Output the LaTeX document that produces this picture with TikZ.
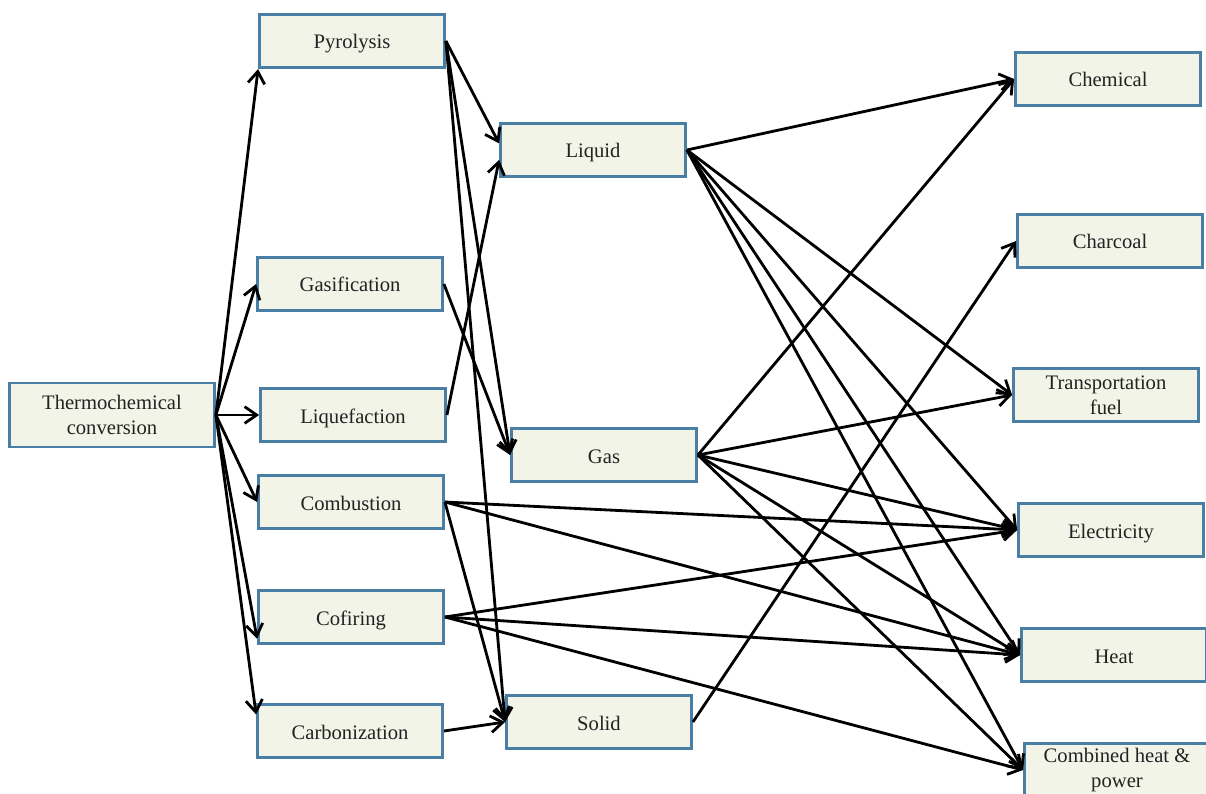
\documentclass[tikz,border=0pt]{standalone}
\usepackage{fontspec}
\setmainfont{Liberation Serif}
\usepackage{tikz}
\usetikzlibrary{arrows.meta,positioning}

\definecolor{boxfill}{HTML}{F3F4E8}
\definecolor{boxline}{HTML}{4A7FA5}
\definecolor{textgrey}{HTML}{222222}

\begin{document}
\begin{tikzpicture}[x=0.03cm,y=-0.03cm]
\tikzstyle{box}=[rectangle,draw=boxline,fill=boxfill,line width=2.4pt,minimum width=5.55cm,minimum height=1.6cm,align=center,text=textgrey,font=\fontsize{17.6}{21}\selectfont,inner sep=0pt,text height=0.6cm,text depth=0.12cm]
\tikzstyle{twoline}=[text height=,text depth=]
\tikzstyle{arr}=[line width=2.4pt,-{Straight Barb[length=3.6mm,width=5mm,line width=2.4pt]}]

\useasboundingbox (0,0) rectangle (1206,794);

% process
\node[box,twoline,minimum width=6.15cm,minimum height=1.92cm] (thermo) at (112,415) {Thermochemical\\conversion};

% routes
\node[box] (pyro) at (352,41) {Pyrolysis};
\node[box] (gasif) at (350,284) {Gasification};
\node[box] (liquef) at (353,415) {Liquefaction};
\node[box] (combus) at (351,502) {Combustion};
\node[box] (cofir) at (351,617) {Cofiring};
\node[box] (carbon) at (350,731) {Carbonization};

% products
\node[box] (liquid) at (593,150) {Liquid};
\node[box] (gas) at (604,455) {Gas};
\node[box] (solid) at (599,722) {Solid};

% uses
\node[box] (chem) at (1108,79) {Chemical};
\node[box] (charc) at (1110,241) {Charcoal};
\node[box,twoline] (trans) at (1106,395) {Transportation\\fuel};
\node[box] (elec) at (1111,530) {Electricity};
\node[box] (heat) at (1114,655) {Heat};
\node[box,twoline] (chp) at (1117,770) {Combined heat \&\\power};

% process -> routes
\draw[arr] (thermo.east) -- (pyro.south west);
\draw[arr] (thermo.east) -- (gasif.west);
\draw[arr] (thermo.east) -- (liquef.west);
\draw[arr] (thermo.east) -- (combus.west);
\draw[arr] (thermo.east) -- (cofir.193);
\draw[arr] (thermo.east) -- (carbon.170);

% routes -> products
\draw[arr] (pyro.east) -- (liquid.176);
\draw[arr] (pyro.east) -- (gas.west);
\draw[arr] (pyro.east) -- (solid.west);
\draw[arr] (gasif.east) -- (gas.west);
\draw[arr] (liquef.east) -- (liquid.186);
\draw[arr] (combus.east) -- (solid.west);
\draw[arr] (carbon.east) -- (solid.west);

% routes -> uses
\draw[arr] (combus.east) -- (elec.west);
\draw[arr] (combus.east) -- (heat.west);
\draw[arr] (cofir.east) -- (elec.west);
\draw[arr] (cofir.east) -- (heat.west);
\draw[arr] (cofir.east) -- (chp.west);

% products -> uses
\draw[arr] (liquid.east) -- (chem.west);
\draw[arr] (liquid.east) -- (trans.west);
\draw[arr] (liquid.east) -- (elec.west);
\draw[arr] (liquid.east) -- (heat.west);
\draw[arr] (liquid.east) -- (chp.west);
\draw[arr] (gas.east) -- (chem.west);
\draw[arr] (gas.east) -- (trans.west);
\draw[arr] (gas.east) -- (elec.west);
\draw[arr] (gas.east) -- (heat.west);
\draw[arr] (gas.east) -- (chp.west);
\draw[arr] (solid.east) -- (charc.west);
\end{tikzpicture}
\end{document}
